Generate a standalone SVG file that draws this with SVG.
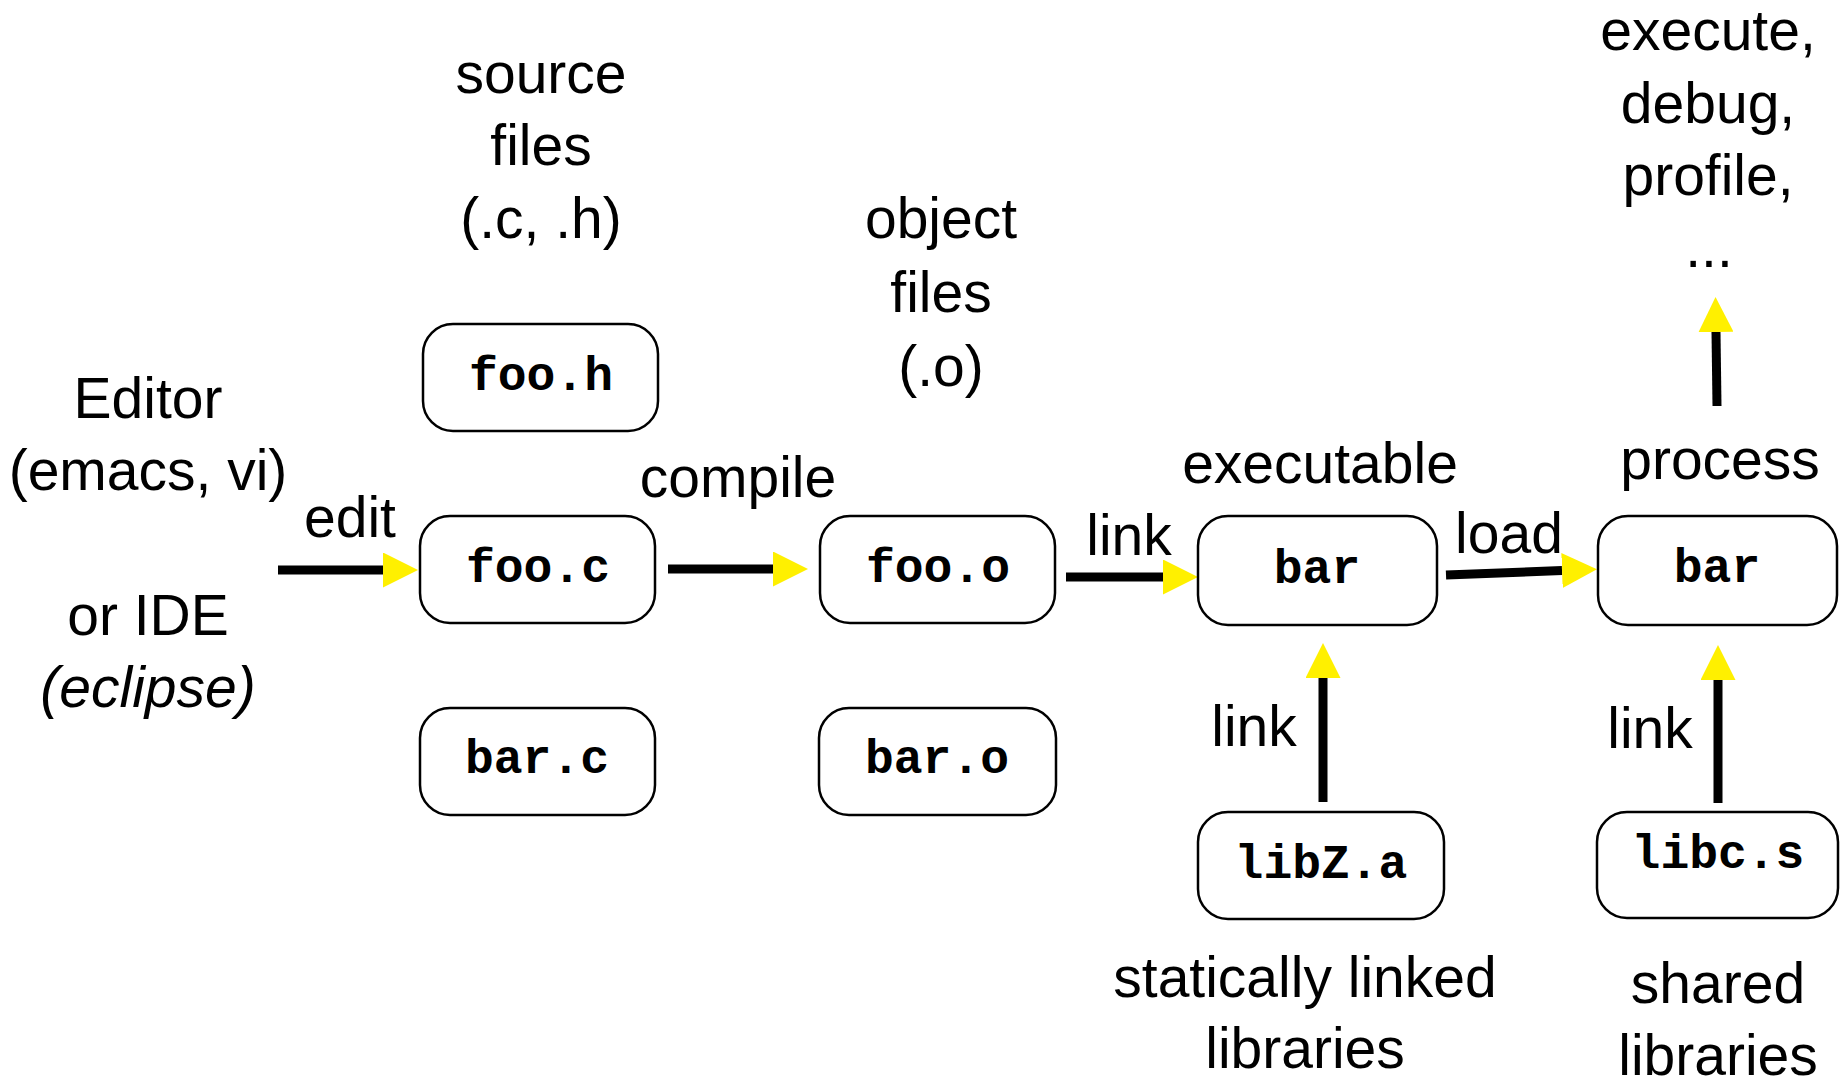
<svg xmlns="http://www.w3.org/2000/svg" width="1840" height="1080" viewBox="0 0 1840 1080">
<style>
.box{fill:#fff;stroke:#000;stroke-width:2.5}
.code{font-family:"Liberation Mono","Courier New",monospace;font-weight:bold;font-size:48px;text-anchor:middle;fill:#000}
.lbl{font-family:"Liberation Sans",Arial,Helvetica,sans-serif;font-size:57px;text-anchor:middle;fill:#000}
.conn{stroke:#000;stroke-width:9;fill:none;marker-end:url(#ah)}
</style>
<defs>
<marker id="ah" markerUnits="userSpaceOnUse" markerWidth="35" markerHeight="35" viewBox="0 0 34 34" refX="0" refY="17" orient="auto">
<path d="M0,0 L34,17 L0,34 z" fill="#FFF000"/>
</marker>
</defs>
<rect width="1840" height="1080" fill="#fff"/>

<g id="labels">
<text class="lbl" x="148" y="418">Editor</text>
<text class="lbl" x="148" y="490">(emacs, vi)</text>
<text class="lbl" x="148" y="635">or IDE</text>
<text class="lbl" x="148" y="707" font-style="italic">(eclipse)</text>
<text class="lbl" x="541" y="93">source</text>
<text class="lbl" x="541" y="165">files</text>
<text class="lbl" x="541" y="238">(.c, .h)</text>
<text class="lbl" x="941" y="238">object</text>
<text class="lbl" x="941" y="312">files</text>
<text class="lbl" x="941" y="386">(.o)</text>
<text class="lbl" x="1320" y="483">executable</text>
<text class="lbl" x="1720" y="479">process</text>
<text class="lbl" x="1708" y="50">execute,</text>
<text class="lbl" x="1708" y="123">debug,</text>
<text class="lbl" x="1708" y="195">profile,</text>
<text class="lbl" x="1709" y="267">...</text>
<text class="lbl" x="1305" y="997">statically linked</text>
<text class="lbl" x="1305" y="1068">libraries</text>
<text class="lbl" x="1718" y="1003">shared</text>
<text class="lbl" x="1718" y="1075">libraries</text>
</g>

<g id="connectors">
<line class="conn" x1="278" y1="570" x2="383" y2="570"/>
<text class="lbl" x="350" y="537">edit</text>
<line class="conn" x1="668" y1="569" x2="773" y2="569"/>
<text class="lbl" x="738" y="497">compile</text>
<line class="conn" x1="1066" y1="577" x2="1163" y2="577"/>
<text class="lbl" x="1129" y="555">link</text>
<line class="conn" x1="1446" y1="575" x2="1562" y2="570.5"/>
<text class="lbl" x="1509" y="553">load</text>
<line class="conn" x1="1717" y1="406" x2="1716" y2="332"/>
<line class="conn" x1="1323" y1="802" x2="1323" y2="678"/>
<text class="lbl" x="1254" y="746">link</text>
<line class="conn" x1="1718" y1="803" x2="1718" y2="680"/>
<text class="lbl" x="1650" y="748">link</text>
</g>

<g id="foo_h"><rect class="box" x="423" y="324" width="235" height="107" rx="30"/><text class="code" x="541" y="390">foo.h</text></g>
<g id="foo_c"><rect class="box" x="420" y="516" width="235" height="107" rx="30"/><text class="code" x="538" y="582">foo.c</text></g>
<g id="bar_c"><rect class="box" x="420" y="708" width="235" height="107" rx="30"/><text class="code" x="537" y="773">bar.c</text></g>
<g id="foo_o"><rect class="box" x="820" y="516" width="235" height="107" rx="30"/><text class="code" x="938" y="582">foo.o</text></g>
<g id="bar_o"><rect class="box" x="819" y="708" width="237" height="107" rx="30"/><text class="code" x="937" y="773">bar.o</text></g>
<g id="bar_exec"><rect class="box" x="1198" y="516" width="239" height="109" rx="30"/><text class="code" x="1317" y="583">bar</text></g>
<g id="bar_proc"><rect class="box" x="1598" y="516" width="239" height="109" rx="30"/><text class="code" x="1717" y="582">bar</text></g>
<g id="libZ_a"><rect class="box" x="1198" y="812" width="246" height="107" rx="30"/><text class="code" x="1321" y="878">libZ.a</text></g>
<g id="libc_s"><rect class="box" x="1597" y="812" width="241" height="106" rx="30"/><text class="code" x="1718" y="868">libc.s</text></g>
</svg>
